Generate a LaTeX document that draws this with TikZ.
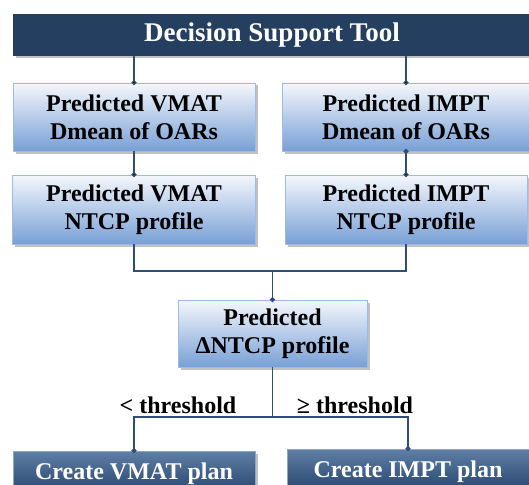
\documentclass[tikz,border=0pt]{standalone}
\usepackage{fontspec}
\setmainfont{Liberation Serif}
\usetikzlibrary{arrows.meta}
\usetikzlibrary{calc}
\usetikzlibrary{positioning}
\usetikzlibrary{shadows}

\definecolor{barblue}{HTML}{243F60}
\definecolor{linkblue}{HTML}{2E4E7A}
\definecolor{predtop}{HTML}{F4F7FC}
\definecolor{predbot}{HTML}{78A0D6}
\definecolor{prededge}{HTML}{9DBBE3}
\definecolor{plantop}{HTML}{5F7FA6}
\definecolor{planbot}{HTML}{22406A}

\begin{document}
\begin{tikzpicture}[x=1pt,y=-1pt,
    every node/.style={font=\bfseries\fontsize{24}{28}\selectfont,align=center,inner sep=0pt},
    shade/.style={drop shadow={shadow xshift=2.5pt,shadow yshift=-2.5pt,opacity=0.35,fill=black!70}},
    toolbar/.style={fill=barblue,text=white,shade,font=\bfseries\fontsize{27}{30}\selectfont},
    predbox/.style={draw=prededge,line width=0.8pt,top color=predtop,bottom color=predbot,shade},
    planbox/.style={draw=plantop!70,line width=0.8pt,top color=plantop,bottom color=planbot,text=white,shade},
    cond/.style={anchor=base},
    link/.style={draw=linkblue,line width=1.3pt},
    dot/.style={->,>={Circle[length=5pt]},shorten >=-2.5pt}]

  \path [use as bounding box,clip] (0,0) rectangle (529,484);

  \node [toolbar,minimum width=518,minimum height=42] (tool) at (272,35) {Decision Support Tool};

  \node [predbox,minimum width=242,minimum height=68] (vdose) at (134,117) {Predicted VMAT\\Dmean of OARs};
  \node [predbox,minimum width=248,minimum height=68] (idose) at (406,117) {Predicted IMPT\\Dmean of OARs};

  \node [predbox,minimum width=243,minimum height=69] (vntcp) at (134,209.5) {Predicted VMAT\\NTCP profile};
  \node [predbox,minimum width=242,minimum height=69] (intcp) at (406,209.5) {Predicted IMPT\\NTCP profile};

  \node [predbox,minimum width=189,minimum height=67] (dntcp) at (272.5,333.5) {Predicted\\ΔNTCP profile};

  \node [planbox,minimum width=242,minimum height=46] (vplan) at (134,474) {Create VMAT plan};
  \node [planbox,minimum width=242,minimum height=46] (iplan) at (408,472) {Create IMPT plan};

  \node [cond] (lower) at (178,413) {< threshold};
  \node [cond] (upper) at (355,413) {≥ threshold};

  \coordinate (merge) at (272.5,271);
  \coordinate (split) at (272.5,417);

  \path [link,dot]
    (tool.south -| vdose.north) edge (vdose.north)
    (tool.south -| idose.north) edge (idose.north)
    (vdose.south) edge (vntcp.north)
    (idose.south) edge (intcp.north);

  \path [link] (vntcp.south) |- (merge) -| (intcp.south);
  \path [link,dot] (merge) -- (dntcp.north);

  \path [link] (dntcp.south) -- (split);
  \path [link,dot] (split) -| (vplan.north);
  \path [link,dot] (split) -| (iplan.north);

\end{tikzpicture}
\end{document}
